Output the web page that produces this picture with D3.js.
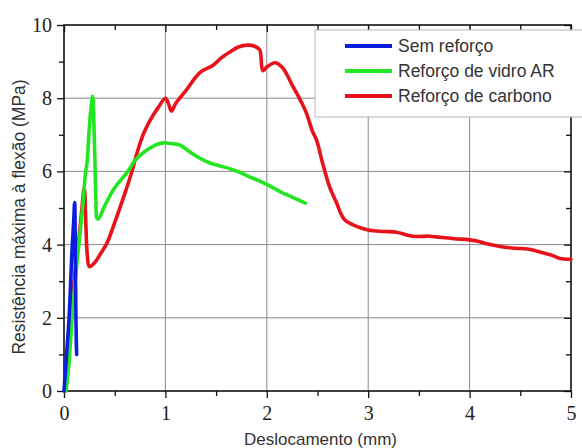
<!DOCTYPE html>
<html>
<head>
<meta charset="utf-8">
<script src="https://cdn.jsdelivr.net/npm/d3@7"></script>
<style>
  body { margin: 0; background: #fff; }
  svg { display: block; }
</style>
</head>
<body>
<svg id="chart" width="582" height="448"></svg>
<script>
// values (displacement mm, stress MPa)
const semX = [0, 0.02, 0.05, 0.08, 0.095, 0.105, 0.11, 0.113, 0.117, 0.121, 0.125];
const semY = [0, 0.8, 2.0, 3.9, 4.6, 5.15, 4.4, 3.3, 2.2, 1.4, 1.0];

const vidroX = [0.02, 0.05, 0.08, 0.11, 0.15, 0.19, 0.21, 0.23, 0.245, 0.265, 0.283, 0.295, 0.305, 0.315, 0.325, 0.34,
  0.4, 0.5, 0.63, 0.7, 0.8, 0.9, 0.98, 1.05, 1.14, 1.24, 1.34, 1.44, 1.54, 1.64, 1.74, 1.83, 1.92, 2.01, 2.13, 2.25, 2.38];
const vidroY = [0, 0.8, 2.0, 3.0, 4.1, 5.2, 5.9, 6.3, 7.0, 7.7, 8.05, 7.3, 6.3, 5.2, 4.72, 4.7,
  5.05, 5.55, 6.0, 6.3, 6.55, 6.72, 6.78, 6.76, 6.72, 6.54, 6.36, 6.23, 6.15, 6.07, 5.97, 5.85, 5.75, 5.63, 5.45, 5.3, 5.13];

const carbonoX = [0.01, 0.04, 0.07, 0.1, 0.14, 0.17, 0.2, 0.215, 0.23, 0.25, 0.3, 0.36, 0.42, 0.5, 0.6, 0.67, 0.72, 0.78,
  0.85, 0.93, 1.0, 1.03, 1.06, 1.1, 1.2, 1.34, 1.47, 1.55, 1.64, 1.72, 1.81, 1.88, 1.93, 1.96, 2.0, 2.08, 2.15, 2.26,
  2.33, 2.39, 2.45, 2.49, 2.55, 2.62, 2.69, 2.73, 2.77, 2.85, 3.0, 3.15, 3.28, 3.4, 3.48, 3.6, 3.71, 3.85, 4.0, 4.1,
  4.17, 4.3, 4.45, 4.57, 4.65, 4.73, 4.82, 4.89, 5.0];
const carbonoY = [0, 0.8, 2.0, 3.0, 4.0, 4.8, 5.55, 4.6, 3.7, 3.4, 3.5, 3.75, 4.02, 4.6, 5.4, 6.0, 6.5, 7.0,
  7.4, 7.75, 8.0, 7.85, 7.65, 7.85, 8.2, 8.7, 8.9, 9.1, 9.27, 9.4, 9.45, 9.42, 9.32, 8.75, 8.85, 8.97, 8.85, 8.31,
  7.95, 7.6, 7.1, 6.86, 6.23, 5.57, 5.13, 4.85, 4.67, 4.54, 4.4, 4.36, 4.34, 4.25, 4.22, 4.23, 4.2, 4.16, 4.13, 4.08,
  4.02, 3.95, 3.9, 3.88, 3.83, 3.77, 3.7, 3.62, 3.6];

const seriesNames = ['Sem reforço', 'Reforço de vidro AR', 'Reforço de carbono'];
const seriesColors = ['#0b1ee0', '#22e622', '#e8121a'];

const xTicks = [0, 1, 2, 3, 4, 5];
const yTicks = [0, 2, 4, 6, 8, 10];

function main() {
  const svg = d3.select('#chart');
  const left = 64, right = 571, top = 25, bottom = 391;

  const x = d3.scaleLinear().domain([0, 5]).range([left, right]);
  const y = d3.scaleLinear().domain([0, 10]).range([bottom, top]);

  // grid
  const grid = svg.append('g').attr('stroke', '#8a8a8a').attr('stroke-width', 1);
  xTicks.slice(1, -1).forEach(function(d) {
    grid.append('line').attr('x1', x(d)).attr('x2', x(d)).attr('y1', top).attr('y2', bottom);
  });
  yTicks.slice(1, -1).forEach(function(d) {
    grid.append('line').attr('x1', left).attr('x2', right).attr('y1', y(d)).attr('y2', y(d));
  });

  // axes: bottom/left ticks outwards, top/right inwards
  const serif = '"Liberation Serif", "DejaVu Serif", serif';
  const xAxis = svg.append('g').attr('transform', `translate(0,${bottom})`)
    .call(d3.axisBottom(x).tickValues(xTicks).tickSize(7).tickPadding(8).tickFormat(d3.format('d')));
  const xMinor = svg.append('g').attr('transform', `translate(0,${bottom})`)
    .call(d3.axisBottom(x).tickValues([0.5, 1.5, 2.5, 3.5, 4.5]).tickSize(5).tickFormat(''));
  const yAxis = svg.append('g').attr('transform', `translate(${left},0)`)
    .call(d3.axisLeft(y).tickValues(yTicks).tickSize(7).tickPadding(5).tickFormat(d3.format('d')));
  const yMinor = svg.append('g').attr('transform', `translate(${left},0)`)
    .call(d3.axisLeft(y).tickValues([1, 3, 5, 7, 9]).tickSize(5).tickFormat(''));
  const xTop = svg.append('g').attr('transform', `translate(0,${top})`)
    .call(d3.axisTop(x).tickValues(xTicks).tickSize(-7).tickFormat(''));
  const xTopMinor = svg.append('g').attr('transform', `translate(0,${top})`)
    .call(d3.axisTop(x).tickValues([0.5, 1.5, 2.5, 3.5, 4.5]).tickSize(-5).tickFormat(''));
  const yRight = svg.append('g').attr('transform', `translate(${right},0)`)
    .call(d3.axisRight(y).tickValues(yTicks).tickSize(-7).tickFormat(''));
  const yRightMinor = svg.append('g').attr('transform', `translate(${right},0)`)
    .call(d3.axisRight(y).tickValues([1, 3, 5, 7, 9]).tickSize(-5).tickFormat(''));

  [xAxis, xMinor, yAxis, yMinor, xTop, xTopMinor, yRight, yRightMinor].forEach(function(g) {
    g.attr('font-family', null).attr('font-size', null);
    g.select('.domain').remove();
    g.selectAll('line').attr('stroke', '#111').attr('stroke-width', 1.3);
    g.selectAll('text')
      .style('font-family', serif)
      .style('font-size', '20px')
      .attr('fill', '#222');
  });

  // frame
  svg.append('rect')
    .attr('x', left).attr('y', top)
    .attr('width', right - left).attr('height', bottom - top)
    .attr('fill', 'none').attr('stroke', '#111').attr('stroke-width', 1.6);

  // curves
  const line = d3.line()
    .x(d => x(d[0]))
    .y(d => y(d[1]))
    .curve(d3.curveCatmullRom.alpha(0.5));
  const data = [
    d3.zip(carbonoX, carbonoY),
    d3.zip(vidroX, vidroY),
    d3.zip(semX, semY)
  ];
  const colorOrder = [seriesColors[2], seriesColors[1], seriesColors[0]];
  data.forEach(function(pts, i) {
    svg.append('path')
      .attr('d', line(pts))
      .attr('fill', 'none')
      .attr('stroke', colorOrder[i])
      .attr('stroke-width', 3.6)
      .attr('stroke-linejoin', 'round')
      .attr('stroke-linecap', 'round');
  });

  // legend
  const sans = '"Liberation Sans", Arial, sans-serif';
  const legend = svg.append('g');
  legend.append('rect')
    .attr('x', 315).attr('y', 30).attr('width', 280).attr('height', 87)
    .attr('fill', '#fff').attr('stroke', '#b5b5b5').attr('stroke-width', 1);
  seriesNames.forEach(function(name, i) {
    const ly = 46 + i * 25;
    legend.append('line')
      .attr('x1', 345).attr('x2', 392).attr('y1', ly).attr('y2', ly)
      .attr('stroke', seriesColors[i]).attr('stroke-width', 4);
    legend.append('text')
      .attr('x', 398).attr('y', ly + 6)
      .attr('font-family', sans).attr('font-size', 17.5).attr('fill', '#333')
      .text(name);
  });

  // axis titles
  svg.append('text')
    .attr('x', (left + right) / 2 + 3).attr('y', 445)
    .attr('text-anchor', 'middle')
    .attr('font-family', sans).attr('font-size', 17).attr('fill', '#333')
    .text('Deslocamento (mm)');
  svg.append('text')
    .attr('transform', 'translate(25,217) rotate(-90)')
    .attr('text-anchor', 'middle')
    .attr('font-family', sans).attr('font-size', 17.5).attr('fill', '#333')
    .text('Resistência máxima à flexão (MPa)');
}

main();
</script>
</body>
</html>
